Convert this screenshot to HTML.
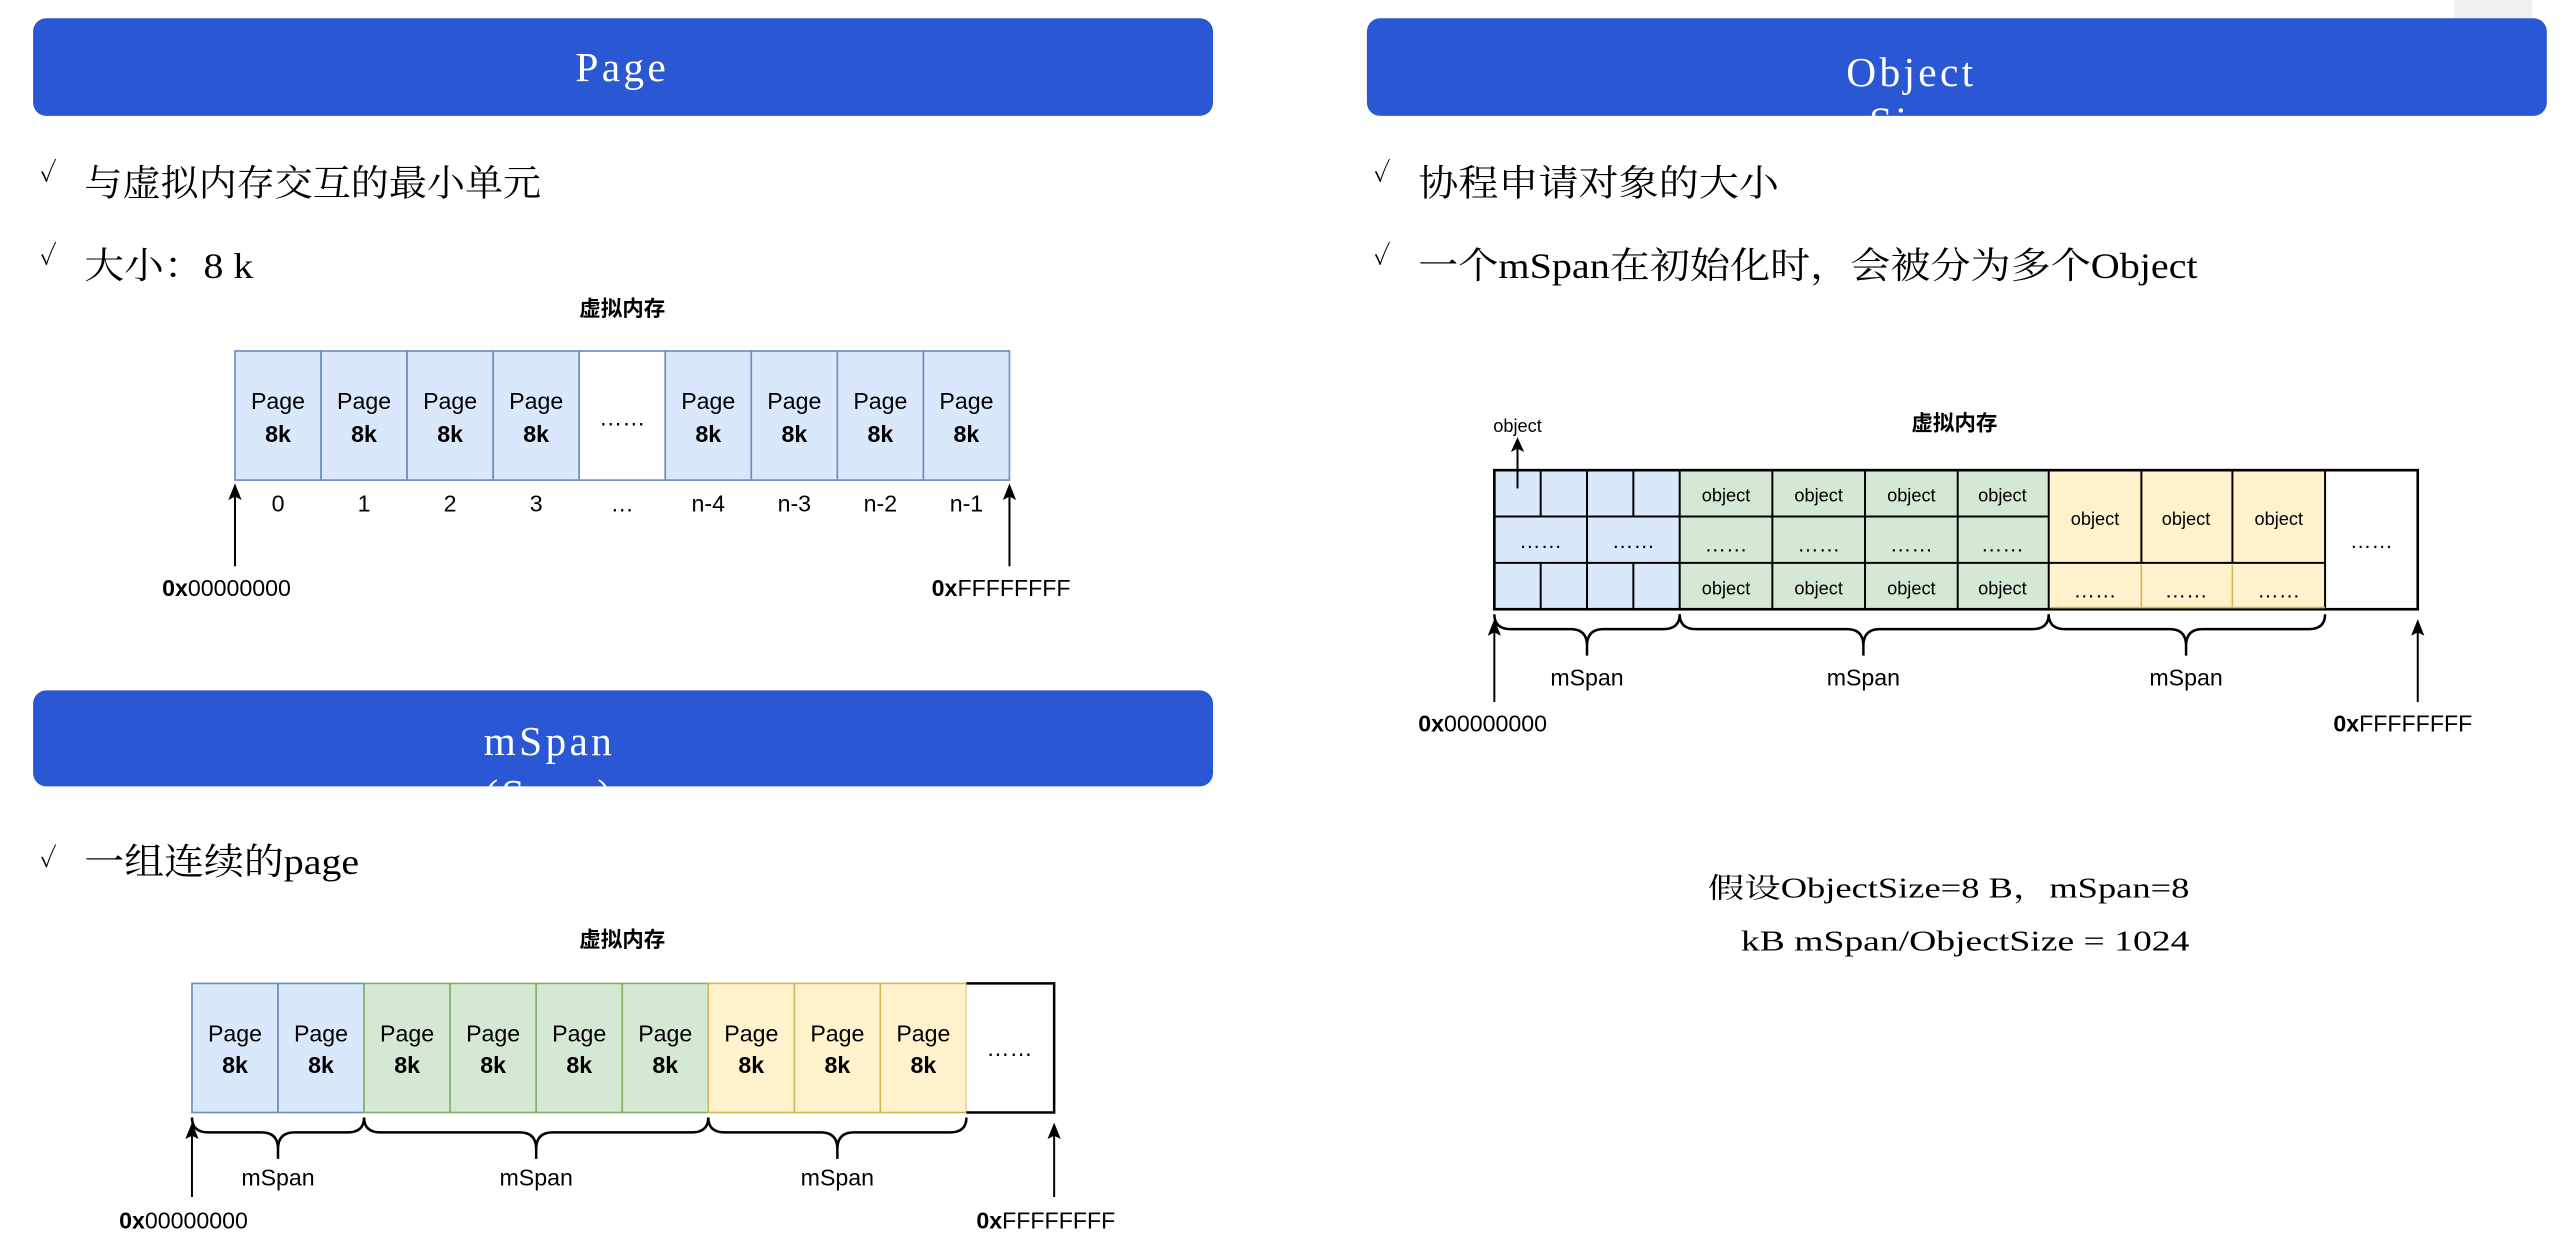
<!DOCTYPE html>
<html><head><meta charset="utf-8"><style>
html,body{margin:0;padding:0;background:#fff;}
svg{display:block;}
.s{font-family:"Liberation Serif","Noto Serif CJK SC",serif;fill:#000;}
.a{font-family:"Liberation Sans","Noto Sans CJK SC",sans-serif;fill:#000;}
.t{font-family:"Liberation Serif",serif;fill:#fff;font-size:25px;letter-spacing:2px;}
</style></head><body>
<svg width="2570" height="1240" viewBox="0 0 1553 749" preserveAspectRatio="none" xmlns="http://www.w3.org/2000/svg">
<defs>
<marker id="ar" viewBox="0 0 10 10" refX="5" refY="2" markerWidth="7" markerHeight="9" orient="auto" markerUnits="userSpaceOnUse">
</marker>
<clipPath id="c1"><rect x="20" y="11" width="713" height="59" rx="8"/></clipPath>
<clipPath id="c2"><rect x="826" y="11" width="713" height="59" rx="8"/></clipPath>
<clipPath id="c3"><rect x="20" y="417" width="713" height="58" rx="8"/></clipPath>
</defs>
<rect x="1483" y="0" width="47" height="11" fill="#f0f0f0"/>
<!-- banners -->
<rect x="20" y="11" width="713" height="59" rx="8" fill="#2a57d3"/>
<text class="t" x="376" y="49" text-anchor="middle">Page</text>
<rect x="826" y="11" width="713" height="59" rx="8" fill="#2a57d3"/>
<g clip-path="url(#c2)"><text class="t" x="1155" y="52" text-anchor="middle">Object</text><text class="t" x="1155" y="82" text-anchor="middle">Size</text></g>
<rect x="20" y="417" width="713" height="58" rx="8" fill="#2a57d3"/>
<g clip-path="url(#c3)"><text class="t" x="332" y="456" text-anchor="middle">mSpan</text><text class="t" x="332" y="488" text-anchor="middle">(Span)</text></g>

<!-- bullets -->
<g class="s" font-size="22">
<text x="24" y="110" font-size="16">✓</text>
<text x="51" y="118" textLength="276" lengthAdjust="spacingAndGlyphs">与虚拟内存交互的最小单元</text>
<text x="24" y="160" font-size="16">✓</text>
<text x="51" y="168" textLength="102" lengthAdjust="spacingAndGlyphs">大小：8 k</text>
<text x="24" y="524" font-size="16">✓</text>
<text x="51" y="528" textLength="166" lengthAdjust="spacingAndGlyphs">一组连续的page</text>
<text x="830" y="110" font-size="16">✓</text>
<text x="857" y="118" textLength="218" lengthAdjust="spacingAndGlyphs">协程申请对象的大小</text>
<text x="830" y="160" font-size="16">✓</text>
<text x="857" y="168" textLength="471" lengthAdjust="spacingAndGlyphs">一个mSpan在初始化时，会被分为多个Object</text>
</g>

<!-- Page diagram -->
<text class="a" x="376" y="191" font-size="13" font-weight="bold" text-anchor="middle">虚拟内存</text>
<g stroke="#6c8ebf" stroke-width="1" fill="#dae8fc">
<rect x="142" y="212" width="52" height="78"/><rect x="194" y="212" width="52" height="78"/>
<rect x="246" y="212" width="52" height="78"/><rect x="298" y="212" width="52" height="78"/>
<rect x="350" y="212" width="52" height="78" fill="#fff"/>
<rect x="402" y="212" width="52" height="78"/><rect x="454" y="212" width="52" height="78"/>
<rect x="506" y="212" width="52" height="78"/><rect x="558" y="212" width="52" height="78"/>
</g>
<g class="a" font-size="14" text-anchor="middle">
<text x="168" y="247">Page</text><text x="220" y="247">Page</text><text x="272" y="247">Page</text><text x="324" y="247">Page</text>
<text x="376" y="257">……</text>
<text x="428" y="247">Page</text><text x="480" y="247">Page</text><text x="532" y="247">Page</text><text x="584" y="247">Page</text>
<g font-weight="bold"><text x="168" y="267">8k</text><text x="220" y="267">8k</text><text x="272" y="267">8k</text><text x="324" y="267">8k</text>
<text x="428" y="267">8k</text><text x="480" y="267">8k</text><text x="532" y="267">8k</text><text x="584" y="267">8k</text></g>
<text x="168" y="309">0</text><text x="220" y="309">1</text><text x="272" y="309">2</text><text x="324" y="309">3</text><text x="376" y="309">…</text>
<text x="428" y="309">n-4</text><text x="480" y="309">n-3</text><text x="532" y="309">n-2</text><text x="584" y="309">n-1</text>
</g>
<g stroke="#000" stroke-width="1.2"><line x1="142" y1="342" x2="142" y2="298"/><line x1="610" y1="342" x2="610" y2="298"/></g>
<g fill="#000"><path d="M142 292 L138 302 L142 300 L146 302Z"/><path d="M610 292 L606 302 L610 300 L614 302Z"/></g>
<g class="a" font-size="14"><text x="98" y="360"><tspan font-weight="bold">0x</tspan>00000000</text><text x="563" y="360"><tspan font-weight="bold">0x</tspan>FFFFFFFF</text></g>

<!-- mSpan diagram -->
<text class="a" x="376" y="572" font-size="13" font-weight="bold" text-anchor="middle">虚拟内存</text>
<g stroke-width="1">
<rect x="116" y="594" width="52" height="78" fill="#dae8fc" stroke="#6c8ebf"/><rect x="168" y="594" width="52" height="78" fill="#dae8fc" stroke="#6c8ebf"/>
<rect x="220" y="594" width="52" height="78" fill="#d5e8d4" stroke="#82b366"/><rect x="272" y="594" width="52" height="78" fill="#d5e8d4" stroke="#82b366"/>
<rect x="324" y="594" width="52" height="78" fill="#d5e8d4" stroke="#82b366"/><rect x="376" y="594" width="52" height="78" fill="#d5e8d4" stroke="#82b366"/>
<rect x="428" y="594" width="52" height="78" fill="#fff2cc" stroke="#d6b656"/><rect x="480" y="594" width="52" height="78" fill="#fff2cc" stroke="#d6b656"/>
<rect x="532" y="594" width="52" height="78" fill="#fff2cc" stroke="#d6b656"/>
<path d="M584 594 H637 V672 H584" fill="#fff" stroke="#000" stroke-width="1.5"/>
</g>
<g class="a" font-size="14" text-anchor="middle">
<text x="142" y="629">Page</text><text x="194" y="629">Page</text><text x="246" y="629">Page</text><text x="298" y="629">Page</text><text x="350" y="629">Page</text><text x="402" y="629">Page</text><text x="454" y="629">Page</text><text x="506" y="629">Page</text><text x="558" y="629">Page</text>
<g font-weight="bold"><text x="142" y="648">8k</text><text x="194" y="648">8k</text><text x="246" y="648">8k</text><text x="298" y="648">8k</text><text x="350" y="648">8k</text><text x="402" y="648">8k</text><text x="454" y="648">8k</text><text x="506" y="648">8k</text><text x="558" y="648">8k</text></g>
<text x="610" y="638">……</text>
<text x="168" y="716">mSpan</text><text x="324" y="716">mSpan</text><text x="506" y="716">mSpan</text>
</g>
<g fill="none" stroke="#000" stroke-width="1.5">
<path d="M116 675 Q116 684 126 684 H158 Q168 684 168 694 V700 M168 694 Q168 684 178 684 H210 Q220 684 220 675"/>
<path d="M220 675 Q220 684 230 684 H314 Q324 684 324 694 V700 M324 694 Q324 684 334 684 H418 Q428 684 428 675"/>
<path d="M428 675 Q428 684 438 684 H496 Q506 684 506 694 V700 M506 694 Q506 684 516 684 H574 Q584 684 584 675"/>
</g>
<g stroke="#000" stroke-width="1.2"><line x1="116" y1="723" x2="116" y2="684"/><line x1="637" y1="723" x2="637" y2="684"/></g>
<g fill="#000"><path d="M116 678 L112 688 L116 686 L120 688Z"/><path d="M637 678 L633 688 L637 686 L641 688Z"/></g>
<g class="a" font-size="14"><text x="72" y="742"><tspan font-weight="bold">0x</tspan>00000000</text><text x="590" y="742"><tspan font-weight="bold">0x</tspan>FFFFFFFF</text></g>

<!-- Object diagram -->
<text class="a" x="1181" y="260" font-size="13" font-weight="bold" text-anchor="middle">虚拟内存</text>
<text class="a" x="917" y="261" font-size="11" text-anchor="middle">object</text>
<rect x="903" y="284" width="112" height="84" fill="#dae8fc"/>
<rect x="1015" y="284" width="223" height="84" fill="#d5e8d4"/>
<rect x="1238" y="284" width="167" height="84" fill="#fff2cc"/>
<g stroke="#000" stroke-width="1.2" fill="none">
<line x1="903" y1="312" x2="1238" y2="312"/><line x1="903" y1="340" x2="1405" y2="340"/>
<line x1="931" y1="284" x2="931" y2="312"/><line x1="959" y1="284" x2="959" y2="368"/><line x1="987" y1="284" x2="987" y2="312"/>
<line x1="931" y1="340" x2="931" y2="368"/><line x1="987" y1="340" x2="987" y2="368"/>
<line x1="1015" y1="284" x2="1015" y2="368"/><line x1="1071" y1="284" x2="1071" y2="368"/><line x1="1127" y1="284" x2="1127" y2="368"/><line x1="1183" y1="284" x2="1183" y2="368"/>
<line x1="1238" y1="284" x2="1238" y2="368"/>
<line x1="1294" y1="284" x2="1294" y2="340"/><line x1="1349" y1="284" x2="1349" y2="340"/>
<line x1="1405" y1="284" x2="1405" y2="368"/>
<rect x="903" y="284" width="558" height="84" stroke-width="1.6"/>
</g>
<g stroke="#d6b656" stroke-width="1"><line x1="1294" y1="341" x2="1294" y2="367"/><line x1="1349" y1="341" x2="1349" y2="367"/><line x1="1239" y1="367" x2="1405" y2="367"/></g>
<g class="a" font-size="11" text-anchor="middle">
<text x="1043" y="303">object</text><text x="1099" y="303">object</text><text x="1155" y="303">object</text><text x="1210" y="303">object</text>
<text x="1043" y="359">object</text><text x="1099" y="359">object</text><text x="1155" y="359">object</text><text x="1210" y="359">object</text>
<text x="1266" y="317">object</text><text x="1321" y="317">object</text><text x="1377" y="317">object</text>
</g>
<g class="a" font-size="13" text-anchor="middle">
<text x="931" y="331">……</text><text x="987" y="331">……</text>
<text x="1043" y="333">……</text><text x="1099" y="333">……</text><text x="1155" y="333">……</text><text x="1210" y="333">……</text>
<text x="1266" y="361">……</text><text x="1321" y="361">……</text><text x="1377" y="361">……</text>
<text x="1433" y="331">……</text>
<text x="959" y="414" font-size="14">mSpan</text><text x="1126" y="414" font-size="14">mSpan</text><text x="1321" y="414" font-size="14">mSpan</text>
</g>
<g stroke="#000" stroke-width="1.2"><line x1="917" y1="295" x2="917" y2="270"/></g>
<path d="M917 264 L913 273 L917 271 L921 273Z" fill="#000"/>
<g fill="none" stroke="#000" stroke-width="1.5">
<path d="M903 371 Q903 380 913 380 H949 Q959 380 959 390 V396 M959 390 Q959 380 969 380 H1005 Q1015 380 1015 371"/>
<path d="M1015 371 Q1015 380 1025 380 H1116 Q1126 380 1126 390 V396 M1126 390 Q1126 380 1136 380 H1228 Q1238 380 1238 371"/>
<path d="M1238 371 Q1238 380 1248 380 H1311 Q1321 380 1321 390 V396 M1321 390 Q1321 380 1331 380 H1395 Q1405 380 1405 371"/>
</g>
<g stroke="#000" stroke-width="1.2"><line x1="903" y1="424" x2="903" y2="380"/><line x1="1461" y1="424" x2="1461" y2="380"/></g>
<g fill="#000"><path d="M903 374 L899 384 L903 382 L907 384Z"/><path d="M1461 374 L1457 384 L1461 382 L1465 384Z"/></g>
<g class="a" font-size="14"><text x="857" y="442"><tspan font-weight="bold">0x</tspan>00000000</text><text x="1410" y="442"><tspan font-weight="bold">0x</tspan>FFFFFFFF</text></g>

<g class="s" font-size="17">
<text x="1323" y="542" text-anchor="end" textLength="291" lengthAdjust="spacingAndGlyphs">假设ObjectSize=8 B，mSpan=8</text>
<text x="1323" y="574" text-anchor="end" textLength="271" lengthAdjust="spacingAndGlyphs">kB mSpan/ObjectSize = 1024</text>
</g>
</svg>
</body></html>
